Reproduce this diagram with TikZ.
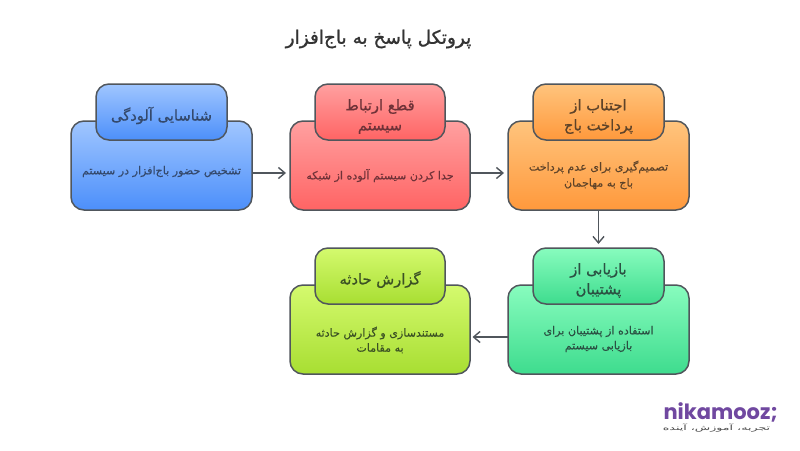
\documentclass[tikz,border=0pt]{standalone}
\usepackage{fontspec}
\setmainfont{DejaVu Sans}
\newfontfamily\arfont[Script=Arabic,FakeBold=0.25]{DejaVu Sans}
\newfontfamily\arhead[Script=Arabic,FakeBold=0.8]{DejaVu Sans}
\newfontfamily\artitle[Script=Arabic,FakeBold=1.2]{DejaVu Sans}
\newfontfamily\artag[Script=Arabic]{DejaVu Sans}
\newfontfamily\logofont{Poppins}
\TeXXeTstate=1
\usetikzlibrary{arrows.meta}
\newcommand{\fa}[1]{\beginR #1\endR}
\definecolor{edgegray}{HTML}{50565C}
\definecolor{inkblue}{HTML}{34496C}
\definecolor{inkred}{HTML}{6F3238}
\definecolor{inkorange}{HTML}{5E4329}
\definecolor{inkgreen}{HTML}{2B5143}
\definecolor{inklime}{HTML}{3B5124}
\tikzset{
  bigbox/.style={draw=edgegray,line width=1.5pt,outer sep=0pt,rounded corners=13pt,minimum width=181pt,minimum height=89pt,inner sep=0pt,anchor=north west},
  headbox/.style={draw=edgegray,line width=1.5pt,outer sep=0pt,rounded corners=13pt,minimum width=131pt,minimum height=56pt,inner sep=0pt,anchor=north west},
  headtext/.style={font=\arhead\fontsize{14.7}{20}\selectfont,align=center,inner sep=0pt},
  desctext/.style={font=\arfont\fontsize{11.1}{15}\selectfont,align=center,inner sep=0pt},
  flow/.style={draw=edgegray,line width=1.5pt,-{Straight Barb[length=6.5pt,width=11pt,line width=1.4pt]},shorten >=4pt},
  bluefill/.style={shade,top color={rgb,255:red,160;green,198;blue,255},bottom color={rgb,255:red,76;green,143;blue,250}},
  redfill/.style={shade,top color={rgb,255:red,255;green,160;blue,160},bottom color={rgb,255:red,255;green,100;blue,100}},
  orangefill/.style={shade,top color={rgb,255:red,255;green,196;blue,125},bottom color={rgb,255:red,255;green,153;blue,60}},
  greenfill/.style={shade,top color={rgb,255:red,136;green,252;blue,190},bottom color={rgb,255:red,62;green,220;blue,142}},
  limefill/.style={shade,top color={rgb,255:red,212;green,250;blue,110},bottom color={rgb,255:red,168;green,222;blue,50}},
}
\begin{document}
\begin{tikzpicture}[x=1pt,y=-1pt]
\useasboundingbox[fill=white] (0,0) rectangle (800,450);
% title
\node[font=\artitle\fontsize{18.5}{20}\selectfont,text=black!80,inner sep=0pt] (title) at (378.5,39) {\fa{پروتکل پاسخ به باج^^^^200cافزار}};
% bodies
\node[bigbox,bluefill] (b1) at (71,121) {};
\node[bigbox,redfill,minimum width=180pt] (b2) at (290,121) {};
\node[bigbox,orangefill] (b3) at (508,121) {};
\node[bigbox,greenfill] (b4) at (508,285) {};
\node[bigbox,limefill,minimum width=180pt] (b5) at (290,285) {};
% heads
\node[headbox,bluefill] (h1) at (96,84) {};
\node[headbox,redfill,minimum width=130pt] (h2) at (315,84) {};
\node[headbox,orangefill] (h3) at (533,84) {};
\node[headbox,greenfill] (h4) at (533,248) {};
\node[headbox,limefill,minimum width=130pt] (h5) at (315,248) {};
% head text
\node[headtext,text=inkblue] (ht1) at (161.5,115.5) {\fa{شناسایی آلودگی}};
\node[headtext,text=inkred] (ht2) at (380,116.5) {\fa{قطع ارتباط}\\\fa{سیستم}};
\node[headtext,text=inkorange] (ht3) at (598.5,116.5) {\fa{اجتناب از}\\\fa{پرداخت باج}};
\node[headtext,text=inkgreen] (ht4) at (598.5,280.5) {\fa{بازیابی از}\\\fa{پشتیبان}};
\node[headtext,text=inklime] (ht5) at (380,279.5) {\fa{گزارش حادثه}};
% description text
\node[desctext,text=inkblue] (d1) at (161.5,171.5) {\fa{تشخیص حضور باج^^^^200cافزار در سیستم}};
\node[desctext,text=inkred] (d2) at (380,175.5) {\fa{جدا کردن سیستم آلوده از شبکه}};
\node[desctext,text=inkorange] (d3) at (598.5,175) {\fa{تصمیم^^^^200cگیری برای عدم پرداخت}\\[1pt]\fa{باج به مهاجمان}};
\node[desctext,text=inkgreen] (d4) at (598.5,339) {\fa{استفاده از پشتیبان برای}\\\fa{بازیابی سیستم}};
\node[desctext,text=inklime] (d5) at (380,340) {\fa{مستندسازی و گزارش حادثه}\\\fa{به مقامات}};
% connectors
\draw[flow] ([yshift=-7.5pt]b1.east) -- ([yshift=-7.5pt]b2.west);
\draw[flow] ([yshift=-7.5pt]b2.east) -- ([yshift=-7.5pt]b3.west);
\draw[flow] (b3.south) -- (b3.south |- h4.north);
\draw[flow,shorten >=2.5pt] ([yshift=-7.5pt]b4.west) -- ([yshift=-7.5pt]b5.east);
% logo
\node[font=\logofont\bfseries\fontsize{21}{21}\selectfont,text={rgb,255:red,112;green,72;blue,160},inner sep=0pt,anchor=base east,text depth=0pt] (logo) at (778,419) {nikamooz;};
\node[font=\artag\fontsize{7}{8}\selectfont,text=black!70,inner sep=0pt,anchor=center,xscale=1.8] (tag) at (716.5,428) {\fa{تجربه، آموزش، آینده}};
\end{tikzpicture}
\end{document}
